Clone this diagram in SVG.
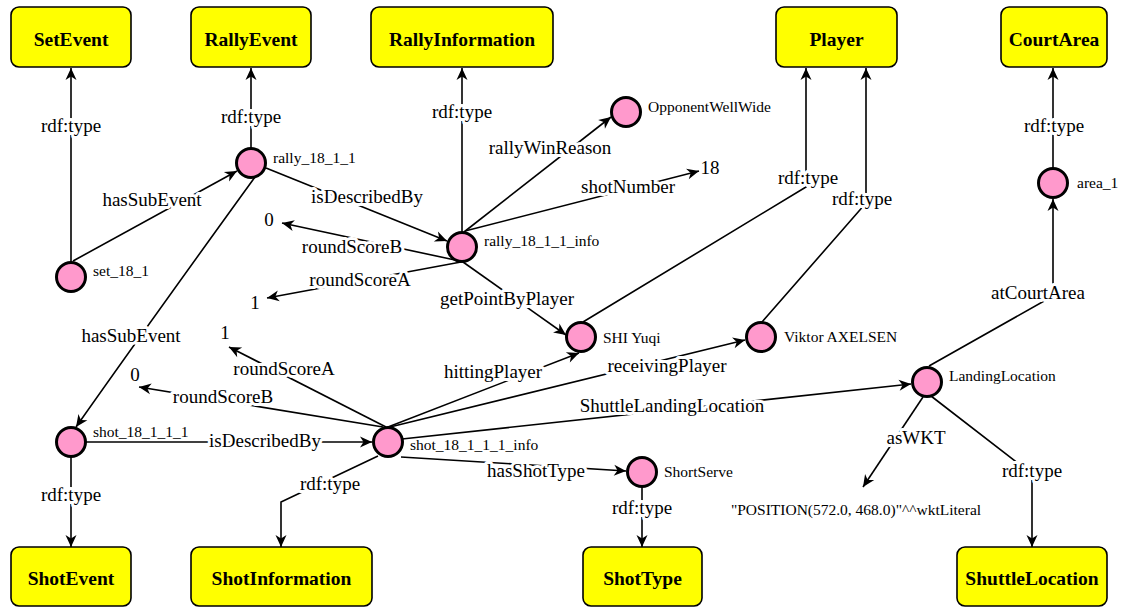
<svg xmlns="http://www.w3.org/2000/svg" width="1126" height="608" viewBox="0 0 1126 608">
<defs>
<style>
.cls rect {fill:#ffff00; stroke:#000; stroke-width:1.6}
.cls text {font-family:"Liberation Serif", serif; font-weight:bold; font-size:19.5px; text-anchor:middle; fill:#000}
.ind circle {fill:#ff99cc; stroke:#000; stroke-width:3}
.ind text {font-family:"Liberation Serif", serif; font-size:15.5px; fill:#000}
.e {fill:none; stroke:#000; stroke-width:1.6; marker-end:url(#arr)}
.lbl {font-family:"Liberation Serif", serif; font-size:19px; text-anchor:middle; fill:#000; stroke:#fff; stroke-width:6; paint-order:stroke; stroke-linejoin:round}
.lit {font-family:"Liberation Serif", serif; font-size:19px; text-anchor:middle; fill:#000}
.lits {font-family:"Liberation Serif", serif; font-size:15.5px; text-anchor:middle; fill:#000}
</style>
<marker id="arr" markerUnits="userSpaceOnUse" markerWidth="14" markerHeight="12" refX="13" refY="6" orient="auto" viewBox="0 0 14 12"><path d="M13,6 L1,0.5 L4.5,6 L1,11.5 z" fill="#000"/></marker>
</defs>
<rect width="1126" height="608" fill="#fff"/>

<g id="connectors">
<path class="e" d="M71,262 L71,68"/>
<path class="e" d="M73,261 L237,171"/>
<path class="e" d="M251,148 L251,68"/>
<path class="e" d="M255,177 Q150,322 76,427"/>
<path class="e" d="M266,168 L447,241"/>
<path class="e" d="M462,232 L462,68"/>
<path class="e" d="M464,232 L611,117"/>
<path class="e" d="M465,231 L699,171"/>
<path class="e" d="M455,260 L282,223"/>
<path class="e" d="M461,262 L267,298"/>
<path class="e" d="M463,262 L566,335"/>
<path class="e" d="M583,322 L806,187 L806,68"/>
<path class="e" d="M762,322 L866,203 L866,68"/>
<path class="e" d="M388,427 L579,353"/>
<path class="e" d="M390,427 L745,340"/>
<path class="e" d="M402,439 L911,384"/>
<path class="e" d="M929,366 L1053,296 L1053,199"/>
<path class="e" d="M923,397 L863,487"/>
<path class="e" d="M931,396 L1032,474 L1032,547"/>
<path class="e" d="M71,457 L71,547"/>
<path class="e" d="M86,442 L372,442"/>
<path class="e" d="M378,456 L281,502 L281,547"/>
<path class="e" d="M401,457 L626,471"/>
<path class="e" d="M642,487 L642,547"/>
<path class="e" d="M386,427 L229,347"/>
<path class="e" d="M383,427 L139,387"/>
<path class="e" d="M1053,168 L1053,68"/>

<text class="lbl" x="71" y="132">rdf:type</text>
<text class="lbl" x="152" y="206">hasSubEvent</text>
<text class="lbl" x="251" y="123">rdf:type</text>
<text class="lbl" x="131" y="342">hasSubEvent</text>
<text class="lbl" x="367" y="203">isDescribedBy</text>
<text class="lbl" x="462" y="118">rdf:type</text>
<text class="lbl" x="550" y="154">rallyWinReason</text>
<text class="lbl" x="628" y="193">shotNumber</text>
<text class="lbl" x="352" y="253">roundScoreB</text>
<text class="lbl" x="360" y="286">roundScoreA</text>
<text class="lbl" x="507" y="305">getPointByPlayer</text>
<text class="lbl" x="808" y="184">rdf:type</text>
<text class="lbl" x="862" y="205">rdf:type</text>
<text class="lbl" x="493" y="378">hittingPlayer</text>
<text class="lbl" x="667" y="372">receivingPlayer</text>
<text class="lbl" x="672" y="412">ShuttleLandingLocation</text>
<text class="lbl" x="1038" y="299">atCourtArea</text>
<text class="lbl" x="1054" y="132">rdf:type</text>
<text class="lbl" x="916" y="444">asWKT</text>
<text class="lbl" x="1032" y="477">rdf:type</text>
<text class="lbl" x="71" y="501">rdf:type</text>
<text class="lbl" x="265" y="447">isDescribedBy</text>
<text class="lbl" x="330" y="490">rdf:type</text>
<text class="lbl" x="536" y="477">hasShotType</text>
<text class="lbl" x="642" y="514">rdf:type</text>
<text class="lbl" x="284" y="375">roundScoreA</text>
<text class="lbl" x="223" y="403">roundScoreB</text>
</g>

<g id="SetEvent" class="cls"><rect x="11" y="7" width="120" height="60" rx="8"/><text x="71" y="45.5">SetEvent</text></g>
<g id="RallyEvent" class="cls"><rect x="191" y="7" width="120" height="60" rx="8"/><text x="251" y="45.5">RallyEvent</text></g>
<g id="RallyInformation" class="cls"><rect x="371" y="7" width="182" height="60" rx="8"/><text x="462" y="45.5">RallyInformation</text></g>
<g id="Player" class="cls"><rect x="776" y="7" width="121" height="60" rx="8"/><text x="836.5" y="45.5">Player</text></g>
<g id="CourtArea" class="cls"><rect x="1001" y="7" width="106" height="60" rx="8"/><text x="1054" y="45.5">CourtArea</text></g>
<g id="ShotEvent" class="cls"><rect x="11" y="547" width="120" height="59" rx="8"/><text x="71" y="585">ShotEvent</text></g>
<g id="ShotInformation" class="cls"><rect x="191" y="547" width="181" height="59" rx="8"/><text x="281.5" y="585">ShotInformation</text></g>
<g id="ShotType" class="cls"><rect x="583" y="547" width="119" height="59" rx="8"/><text x="642.5" y="585">ShotType</text></g>
<g id="ShuttleLocation" class="cls"><rect x="957" y="547" width="150" height="59" rx="8"/><text x="1032" y="585">ShuttleLocation</text></g>

<g id="set_18_1" class="ind"><circle cx="71" cy="277" r="14.5"/><text x="93" y="276">set_18_1</text></g>
<g id="rally_18_1_1" class="ind"><circle cx="251" cy="163" r="14.5"/><text x="273" y="163">rally_18_1_1</text></g>
<g id="rally_18_1_1_info" class="ind"><circle cx="462" cy="247" r="14.5"/><text x="484" y="246">rally_18_1_1_info</text></g>
<g id="OpponentWellWide" class="ind"><circle cx="626" cy="112" r="14.5"/><text x="648" y="112">OpponentWellWide</text></g>
<g id="SHI_Yuqi" class="ind"><circle cx="581" cy="337" r="14.5"/><text x="603" y="343">SHI Yuqi</text></g>
<g id="Viktor_AXELSEN" class="ind"><circle cx="761" cy="337" r="14.5"/><text x="784" y="342">Viktor AXELSEN</text></g>
<g id="LandingLocation" class="ind"><circle cx="927" cy="382" r="14.5"/><text x="949" y="381">LandingLocation</text></g>
<g id="area_1" class="ind"><circle cx="1053" cy="183" r="14.5"/><text x="1077" y="188">area_1</text></g>
<g id="shot_18_1_1_1" class="ind"><circle cx="71" cy="442" r="14.5"/><text x="93" y="437">shot_18_1_1_1</text></g>
<g id="shot_18_1_1_1_info" class="ind"><circle cx="388" cy="442" r="14.5"/><text x="410" y="450">shot_18_1_1_1_info</text></g>
<g id="ShortServe" class="ind"><circle cx="642" cy="472" r="14.5"/><text x="664" y="477">ShortServe</text></g>

<g id="literals">
<text class="lit" x="710" y="174">18</text>
<text class="lit" x="269" y="226">0</text>
<text class="lit" x="255" y="309">1</text>
<text class="lit" x="225" y="339">1</text>
<text class="lit" x="135" y="381">0</text>
<text class="lits" x="856" y="515">"POSITION(572.0, 468.0)"^^wktLiteral</text>
</g>
</svg>
